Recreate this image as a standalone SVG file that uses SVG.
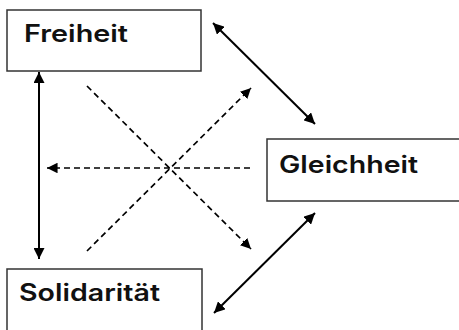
<svg xmlns="http://www.w3.org/2000/svg" width="459" height="330" viewBox="0 0 459 330">
  <style>
    .box { fill: #ffffff; stroke: #333333; stroke-width: 1.5; }
    .label { font-family: "Inter", "Noto Sans", "Liberation Sans", sans-serif; font-weight: 600; font-size: 24px; fill: #111111; }
    .solid { stroke: #000000; stroke-width: 2; fill: none; }
    .dashed { stroke: #000000; stroke-width: 1.7; stroke-dasharray: 6 4; fill: none; }
  </style>
  <defs>
    <marker id="head" viewBox="0 0 10 10" refX="10" refY="5" markerWidth="5.5" markerHeight="5.5" orient="auto-start-reverse" markerUnits="strokeWidth">
      <path d="M0,0 L10,5 L0,10 Z" fill="#000000"/>
    </marker>
    <marker id="headDash" viewBox="0 0 10 10" refX="10" refY="5" markerWidth="6.2" markerHeight="6.2" orient="auto-start-reverse" markerUnits="strokeWidth">
      <path d="M0,0 L10,5 L0,10 Z" fill="#000000"/>
    </marker>
  </defs>

  <g id="freiheit">
    <rect class="box" x="7" y="10" width="194" height="61"/>
    <text class="label" x="24" y="42" textLength="104" lengthAdjust="spacingAndGlyphs">Freiheit</text>
  </g>

  <g id="gleichheit">
    <rect class="box" x="267" y="139" width="200" height="62"/>
    <text class="label" x="279" y="173" textLength="139" lengthAdjust="spacingAndGlyphs">Gleichheit</text>
  </g>

  <g id="solidaritaet">
    <rect class="box" x="7" y="269" width="195" height="70"/>
    <text class="label" x="19" y="301" textLength="141" lengthAdjust="spacingAndGlyphs">Solidarität</text>
  </g>

  <g id="connectors">
    <line class="solid" x1="39" y1="72" x2="39" y2="259" marker-start="url(#head)" marker-end="url(#head)"/>
    <line class="solid" x1="213" y1="23" x2="315" y2="124" marker-start="url(#head)" marker-end="url(#head)"/>
    <line class="solid" x1="315" y1="213" x2="214" y2="313" marker-start="url(#head)" marker-end="url(#head)"/>
    <line class="dashed" x1="250" y1="168" x2="47" y2="168" marker-end="url(#headDash)"/>
    <line class="dashed" x1="87" y1="251" x2="251" y2="88" marker-end="url(#headDash)"/>
    <line class="dashed" x1="87" y1="86" x2="251" y2="249" marker-end="url(#headDash)"/>
  </g>
</svg>
